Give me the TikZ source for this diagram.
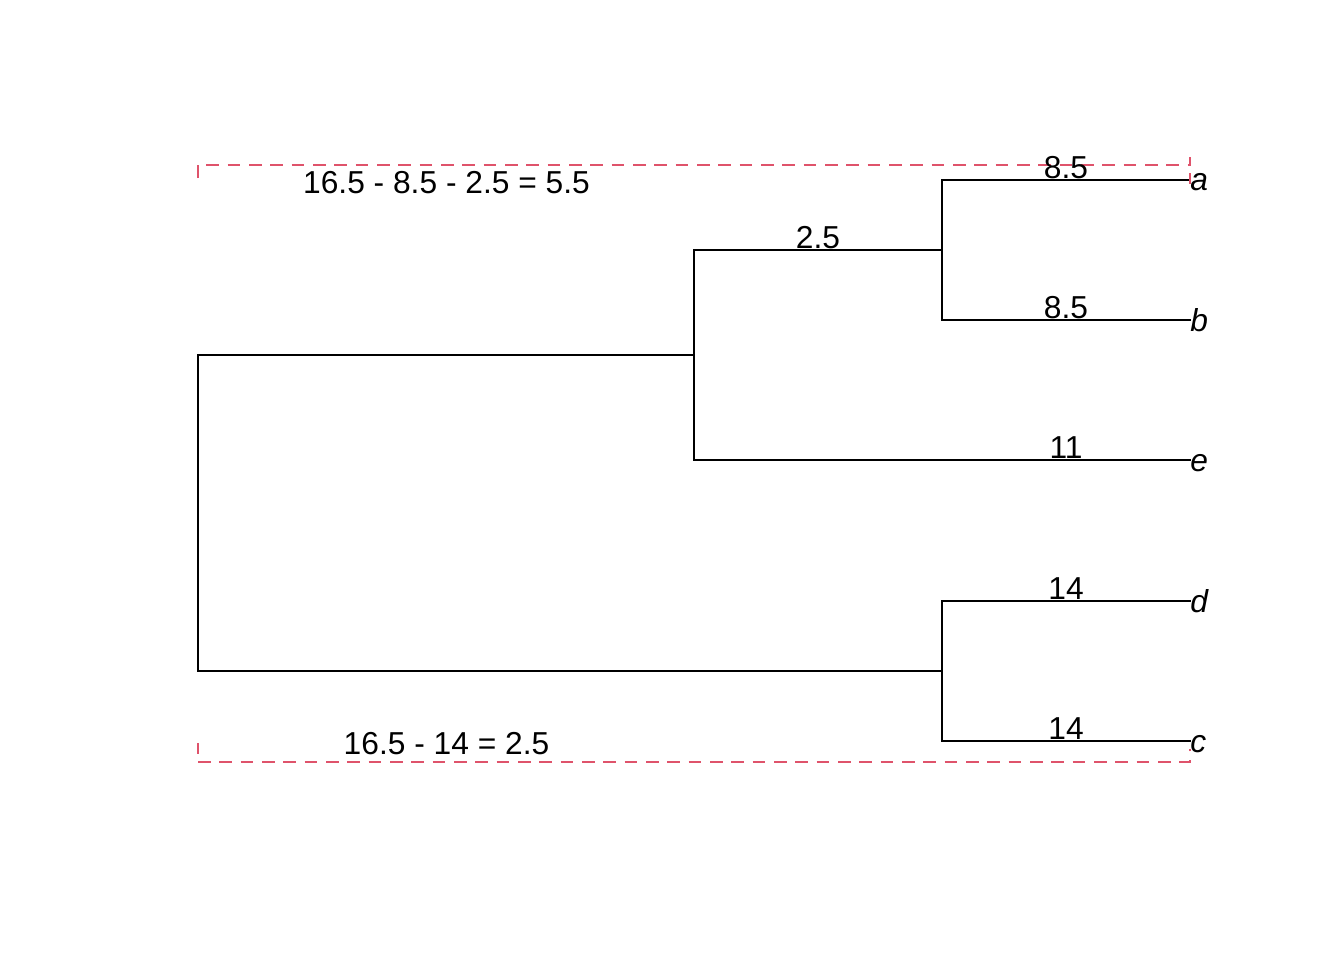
\documentclass[tikz,border=0pt]{standalone}
\usepackage{fontspec}
\setmainfont{Liberation Sans}
\definecolor{rred}{HTML}{DF536B}
\begin{document}
\begin{tikzpicture}[x=0.75pt,y=-0.75pt,
  edge/.style={line width=1.5pt,line cap=rect},
  brk/.style={rred,line width=1.5pt,dash pattern=on 9.5pt off 6.5pt},
  num/.style={anchor=base,inner sep=0pt,font=\fontsize{23.8}{28}\selectfont},
  leaf/.style={anchor=base west,inner sep=0pt,font=\fontsize{23.8}{28}\selectfont\itshape}]
\useasboundingbox (0,0) rectangle (1344,960);
% tree points
\coordinate (A) at (1190,180);
\coordinate (B) at (1190,320);
\coordinate (E) at (1190,460);
\coordinate (D) at (1190,601);
\coordinate (C) at (1190,741);
\coordinate (ABa) at (942,180);
\coordinate (ABb) at (942,320);
\coordinate (AB) at (942,250);
\coordinate (ABEab) at (694,250);
\coordinate (ABEe) at (694,460);
\coordinate (ABE) at (694,355);
\coordinate (DCd) at (942,601);
\coordinate (DCc) at (942,741);
\coordinate (DC) at (942,671);
\coordinate (Rt) at (198,355);
\coordinate (Rb) at (198,671);
% edges
\draw[edge] (A) -- (ABa) -- (ABb) -- (B);
\draw[edge] (AB) -- (ABEab) -- (ABEe) -- (E);
\draw[edge] (D) -- (DCd) -- (DCc) -- (C);
\draw[edge] (ABE) -- (Rt) -- (Rb) -- (DC);
% brackets
\coordinate (t1) at (198,178);
\coordinate (t2) at (198,165);
\coordinate (t3) at (1190,165);
\coordinate (t4) at (1190,157);
\coordinate (t5) at (1190,173);
\coordinate (t6) at (1190,184);
\draw[brk] (t1) -- (t2) -- (t3) -- (t4);
\draw[rred,line width=1.5pt] (t5) -- (t6);
\coordinate (b1) at (198,743);
\coordinate (b2) at (198,754);
\coordinate (b3) at (198,762);
\coordinate (b4) at (1190,762);
\coordinate (b5) at (1190,749);
\draw[rred,line width=1.5pt] (b1) -- (b2);
\draw[brk] (b3) -- (b4) -- (b5);
% labels
\node[num] (la) at (1066,178) {8.5};
\node[num] (lb) at (1066,318) {8.5};
\node[num] (lab) at (818,248) {2.5};
\node[num] (le) at (1066,458) {11};
\node[num] (ld) at (1066,599) {14};
\node[num] (lc) at (1066,739) {14};
\node[num] (eq1) at (446.5,193) {16.5 - 8.5 - 2.5 = 5.5};
\node[num] (eq2) at (446.5,754) {16.5 - 14 = 2.5};
\node[leaf] (na) at (1190,190) {a};
\node[leaf] (nb) at (1190,331) {b};
\node[leaf] (ne) at (1190,471) {e};
\node[leaf] (nd) at (1190,612) {d};
\node[leaf] (nc) at (1190,752) {c};
\end{tikzpicture}
\end{document}
